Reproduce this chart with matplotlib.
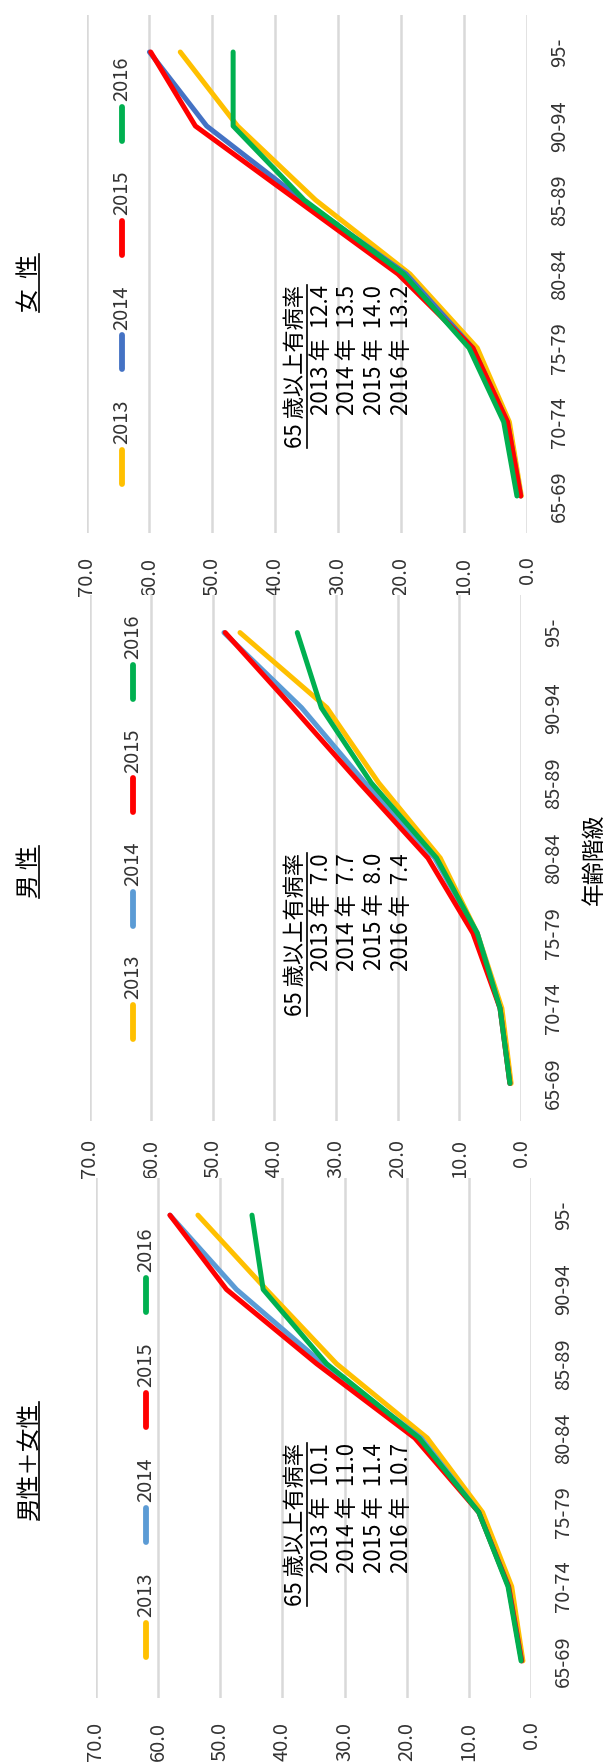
import matplotlib

matplotlib.use("Agg")
import numpy as np
from matplotlib import pyplot as plt
from matplotlib.lines import Line2D
from matplotlib.transforms import IdentityTransform

ages = ["65-69", "70-74", "75-79", "80-84", "85-89", "90-94", "95-"]
years = ["2013", "2014", "2015", "2016"]

# 男性+女性
both_2013 = [1.3, 3.1, 7.8, 16.7, 31.3, 42.6, 53.6]
both_2014 = [1.5, 3.6, 8.4, 17.7, 33.5, 47.4, 58.1]
both_2015 = [1.5, 3.6, 8.4, 18.7, 34.5, 49.0, 58.1]
both_2016 = [1.6, 3.7, 8.4, 18.0, 32.9, 43.1, 44.9]
both_rates = [10.1, 11.0, 11.4, 10.7]

# 男性
male_2013 = [1.6, 3.1, 7.1, 13.1, 23.1, 31.5, 45.6]
male_2014 = [1.8, 3.4, 7.1, 14.0, 25.3, 35.6, 48.2]
male_2015 = [1.8, 3.4, 7.8, 15.1, 26.2, 37.0, 48.0]
male_2016 = [1.8, 3.4, 7.1, 13.7, 24.3, 32.4, 36.3]
male_rates = [7.0, 7.7, 8.0, 7.4]

# 女性
female_2013 = [0.9, 2.8, 7.9, 18.6, 33.6, 46.0, 55.1]
female_2014 = [1.0, 3.1, 8.6, 19.2, 35.7, 50.9, 60.0]
female_2015 = [1.0, 3.1, 8.6, 20.5, 36.6, 52.7, 59.8]
female_2016 = [1.6, 3.7, 9.2, 19.6, 35.4, 46.7, 46.7]
female_rates = [12.4, 13.5, 14.0, 13.2]

W, H = 604, 1764
CJK = "Noto Sans CJK JP"
num_font, num_size = CJK, 14.5


def fx(x):
    return x / W


def fy(y):
    return 1 - y / H


fig = plt.figure(figsize=(W / 100, H / 100), dpi=100)
underlines = []


def add_panel(box, series, colors, title, title_y, rates, note_y, leg_x, leg_y0, leg_step, xpad):
    x0, y0, x1, y1 = box
    ax = fig.add_axes([fx(x0), fy(y1), (x1 - x0) / W, (y1 - y0) / H])
    pos = np.arange(len(ages))
    for vals, c in zip(series, colors):
        ax.plot(vals, pos, color=c, lw=3.6, solid_capstyle="round", solid_joinstyle="round")
    ax.set_xlim(70, 0)
    ax.set_ylim(-0.5, 6.5)
    ticks = np.arange(0, 71, 10)
    ax.set_xticks(ticks, labels=["%.1f" % t for t in ticks], rotation=90,
                  fontfamily=num_font, fontsize=num_size, color="#333333")
    ax.tick_params(axis="x", length=0, pad=xpad)
    ax.yaxis.tick_right()
    ax.set_yticks(pos, labels=ages, rotation=90, va="center",
                  fontfamily=num_font, fontsize=num_size, color="#333333")
    ax.tick_params(axis="y", length=0, pad=16)
    ax.grid(axis="x", color="#D9D9D9", lw=1.8)
    ax.set_axisbelow(True)
    for s in ax.spines.values():
        s.set_visible(False)

    # legend drawn by hand, rotated like the rest
    for i, (yr, c) in enumerate(zip(years, colors)):
        ly = leg_y0 - i * leg_step
        fig.add_artist(Line2D([fx(leg_x)] * 2, [fy(ly + 17), fy(ly - 17)],
                              transform=fig.transFigure, color=c, lw=4.2,
                              solid_capstyle="round"))
        fig.text(fx(leg_x), fy(ly - 45), yr, rotation=90, ha="center", va="center",
                 fontfamily=num_font, fontsize=num_size, color="#333333")

    t = fig.text(fx(29), fy(title_y), title, rotation=90, ha="center", va="center",
                 fontfamily=CJK, fontsize=17)
    underlines.append((t, 39))

    h = fig.text(fx(295), fy(note_y), "65 歳以上有病率", rotation=90, ha="center",
                 va="top", fontfamily=CJK, fontsize=16)
    underlines.append((h, 307))
    for i, (yr, r) in enumerate(zip(years, rates)):
        fig.text(fx(321.5 + 26.5 * i), fy(note_y), "%s 年  %.1f" % (yr, r), rotation=90,
                 ha="center", va="top", fontfamily=CJK, fontsize=16)
    return ax


add_panel((86.5, 15, 527, 533), [female_2013, female_2014, female_2015, female_2016],
          ["#FFC000", "#4472C4", "#FF0000", "#00B050"], "女  性", 283,
          female_rates, 285, 121.5, 466.5, 114.2, 17)
add_panel((89.6, 595, 521, 1121), [male_2013, male_2014, male_2015, male_2016],
          ["#FFC000", "#5B9BD5", "#FF0000", "#00B050"], "男 性", 872,
          male_rates, 853, 132.7, 1022, 113.4, 13)
add_panel((96, 1178, 531, 1698), [both_2013, both_2014, both_2015, both_2016],
          ["#FFC000", "#5B9BD5", "#FF0000", "#00B050"], "男性＋女性", 1461,
          both_rates, 1443, 146, 1640, 115, 17)

fig.text(fx(594), fy(859), "年齢階級", rotation=90, ha="center", va="center",
         fontfamily=CJK, fontsize=16.5)

fig.canvas.draw()
for t, ux in underlines:
    bb = t.get_window_extent()
    fig.add_artist(Line2D([ux, ux], [bb.y0, bb.y1], transform=IdentityTransform(),
                          color="black", lw=1.2))

fig.savefig("out.png", dpi=100)
